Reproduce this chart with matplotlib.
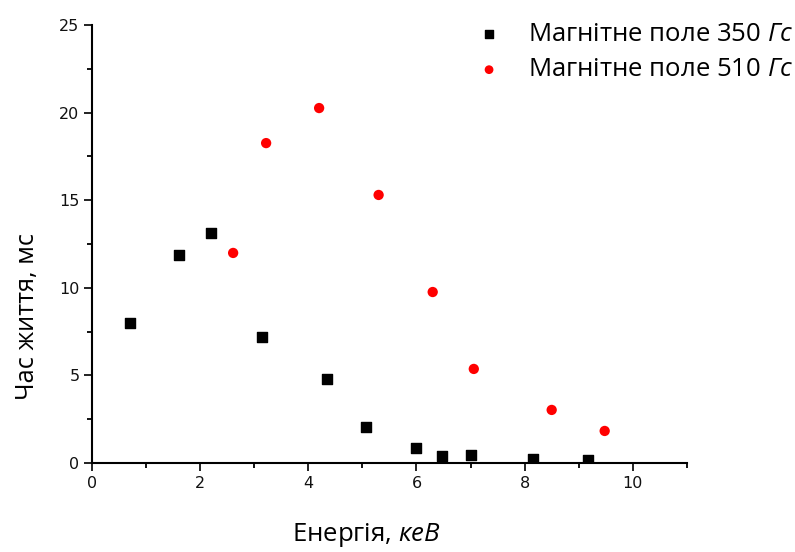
import numpy as np
import matplotlib.pyplot as plt
from matplotlib.ticker import MultipleLocator

plt.rcParams['mathtext.fontset'] = 'custom'
plt.rcParams['mathtext.it'] = 'Open Sans:italic'
plt.rcParams['mathtext.rm'] = 'Open Sans'

# Магнітне поле 350 Гс
x350 = [0.70, 1.61, 2.20, 3.15, 4.35, 5.06, 6.00, 6.48, 7.00, 8.15, 9.17]
y350 = [7.99, 11.87, 13.13, 7.19, 4.79, 2.05, 0.86, 0.40, 0.46, 0.23, 0.17]

# Магнітне поле 510 Гс
x510 = [2.61, 3.22, 4.20, 5.30, 6.30, 7.06, 8.50, 9.48]
y510 = [11.99, 18.26, 20.26, 15.30, 9.76, 5.37, 3.03, 1.83]

labels = ["Магнітне поле 350 $\\mathit{Гс}$", "Магнітне поле 510 $\\mathit{Гс}$"]

fig = plt.figure(figsize=(7.95, 5.52), dpi=100)
ax = fig.add_axes([0.1157, 0.1612, 0.7483, 0.7935])

ax.scatter(x350, y350, marker='s', s=50, color='black', label=labels[0], zorder=3)
ax.scatter(x510, y510, marker='o', s=55, color='red', edgecolors='none', label=labels[1], zorder=3)

ax.set_xlim(0, 11)
ax.set_ylim(0, 25)
ax.xaxis.set_major_locator(MultipleLocator(2))
ax.xaxis.set_minor_locator(MultipleLocator(1))
ax.yaxis.set_major_locator(MultipleLocator(5))
ax.yaxis.set_minor_locator(MultipleLocator(2.5))

for s in ['top', 'right']:
    ax.spines[s].set_visible(False)
for s in ['left', 'bottom']:
    ax.spines[s].set_linewidth(1.5)

ax.tick_params(which='major', direction='out', length=6, width=1.3, labelsize=11.5, colors='#111111', pad=3)
ax.tick_params(which='minor', direction='out', length=3.5, width=1.3)

fig.text(366 / 795, 1 - 535 / 552, "Енергія, $\\mathit{кеВ}$", fontsize=18.5,
         family='Open Sans', ha='center', va='center')
fig.text(28 / 795, 1 - 316 / 552, "Час життя, мс", fontsize=18.3,
         family='Open Sans', ha='center', va='center', rotation=90)

leg = ax.legend(loc='upper left', bbox_to_anchor=(0.607, 1.03), frameon=False,
                prop={'family': 'Open Sans', 'size': 18.5}, markerscale=0.85,
                handletextpad=0.5, labelspacing=0.4, borderaxespad=0)

fig.savefig("out.png", dpi=100)
